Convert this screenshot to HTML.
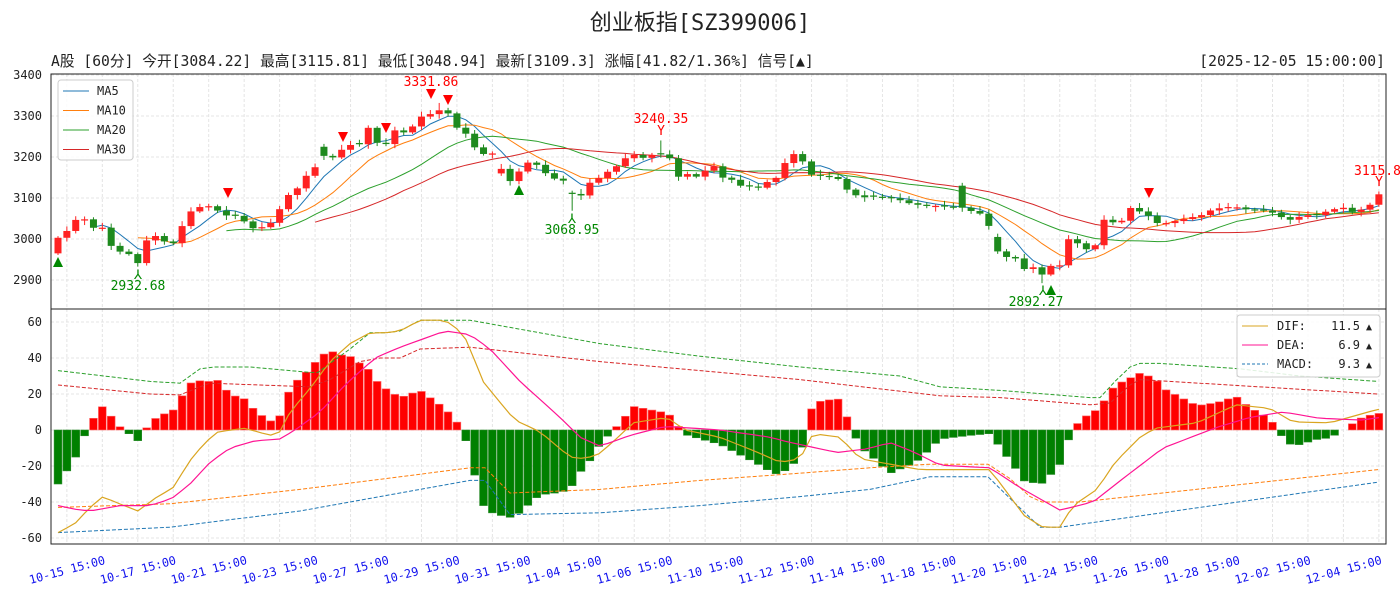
<!DOCTYPE html>
<html><head><meta charset="utf-8">
<style>
html,body{margin:0;padding:0;background:#fff;width:1400px;height:600px;overflow:hidden}
svg{display:block}
text{font-family:"DejaVu Sans Mono","WenQuanYi Zen Hei","Noto Sans CJK SC",monospace}
</style></head><body>
<svg id="s" width="1400" height="600" xmlns="http://www.w3.org/2000/svg">
<text x="700" y="30" font-size="22" text-anchor="middle" fill="#222" font-family="'Liberation Sans','WenQuanYi Zen Hei',sans-serif">创业板指[SZ399006]</text>
<text x="51" y="66" font-size="14.7" fill="#222">A股 [60分] 今开[3084.22] 最高[3115.81] 最低[3048.94] 最新[3109.3] 涨幅[41.82/1.36%] 信号[▲]</text>
<text x="1385" y="66" font-size="14.7" fill="#222" text-anchor="end">[2025-12-05 15:00:00]</text>
<g id="g"></g>
</svg>
<script>
var NS="http://www.w3.org/2000/svg",G=document.getElementById('g');
function el(t,a,txt){var e=document.createElementNS(NS,t);for(var k in a)e.setAttribute(k,a[k]);if(txt!=null)e.textContent=txt;G.appendChild(e);return e;}
var L=51,R=1386,T1=74,B1=309,B2=544,SP=8.865;
function X(i){return 58+SP*i;}
function YP(p){return 75+(3400-p)*0.41;}
function YM(v){return 430-1.8*v;}
for(var k=0;k<38;k++){var gx=X(1+4*k);el('line',{x1:gx,x2:gx,y1:T1,y2:B2,stroke:'#e4e4e4','stroke-dasharray':'3,2','stroke-width':1});}
[3400,3300,3200,3100,3000,2900].forEach(function(p){var y=YP(p);el('line',{x1:L,x2:R,y1:y,y2:y,stroke:'#e4e4e4','stroke-dasharray':'3,2'});el('text',{x:42,y:y+4,'font-size':12,'text-anchor':'end',fill:'#222'},p);});
[60,40,20,0,-20,-40,-60].forEach(function(v){var y=YM(v);el('line',{x1:L,x2:R,y1:y,y2:y,stroke:'#e4e4e4','stroke-dasharray':'3,2'});el('text',{x:42,y:y+4,'font-size':12,'text-anchor':'end',fill:'#222'},v);});
var C0=[3003,3020,3048,3048,3025,3028,2975,2968,2962,2935,3018,3003,2990,2990,3055,3075,3080,3080,3060,3055,3058,3025,3028,3030,3055,3105,3112,3150,3165,3205,3195,3215,3230,3225,3275,3235,3230,3265,3260,3275,3300,3305,3315,3305,3265,3255,3215,3205,3210,3155,3135,3180,3190,3175,3150,3145,3140,3080,3135,3140,3160,3170,3190,3210,3195,3205,3205,3210,3150,3160,3150,3165,3180,3150,3145,3130,3128,3125,3140,3150,3190,3210,3185,3150,3155,3150,3145,3110,3105,3100,3105,3098,3100,3090,3085,3082,3080,3082,3075,3080,3070,3065,3055,2975,2955,2960,2925,2935,2910,2935,2930,3000,2990,2975,2985,3050,3040,3045,3080,3065,3055,3035,3040,3045,3050,3055,3060,3075,3075,3080,3075,3070,3070,3068,3060,3045,3050,3060,3055,3065,3070,3080,3065,3070,3078,3109];
var OV={99:3130,29:3225,49:3160,57:3110,103:3005};
var N=150,C=[],O=[],MAP=[];
for(var i=0;i<N;i++){var oi=(X(i)-58)/9.1;var a=Math.floor(oi),f=oi-a;if(a>=C0.length-1){a=C0.length-2;f=1;}C.push(C0[a]*(1-f)+C0[a+1]*f);MAP.push(Math.round(oi));}
for(var i=0;i<N;i++){var m=MAP[i];O.push(i?C[i-1]:2965);if(OV[m]!=null&&(i==0||MAP[i-1]!=m))O[i]=OV[m];}
function ma(n){var r=[];for(var i=0;i<N;i++){if(i<n-1){r.push(null);continue;}var s=0;for(var j=i-n+1;j<=i;j++)s+=C[j];r.push(s/n);}return r;}
[[5,'#1f77b4'],[10,'#ff7f0e'],[20,'#2ca02c'],[30,'#d62728']].forEach(function(m){var a=ma(m[0]),pts=[];a.forEach(function(v,i){if(v!=null)pts.push(X(i).toFixed(1)+','+YP(v).toFixed(1));});el('polyline',{points:pts.join(' '),fill:'none',stroke:m[1],'stroke-width':1});});
function near(x){return Math.round((x-58)/SP);}
var SPL={};SPL[near(138)]=['lo',2932.68];SPL[near(572)]=['lo',3068.95];SPL[near(1043)]=['lo',2892.27];SPL[near(440)]=['hi',3331.86];SPL[near(661)]=['hi',3240.35];SPL[N-1]=['hi',3115.81];
for(var i=0;i<N;i++){var o=O[i],c=C[i];if(Math.abs(o-c)<2)o=c+((i%2)?-3:3);var up=c>=o,col=up?'#ff2222':'#1e8a1e',hi=Math.max(o,c)+4+(i*7%9),lo=Math.min(o,c)-4-(i*5%8);
if(SPL[i]){if(SPL[i][0]=='lo')lo=SPL[i][1];else hi=SPL[i][1];}
el('line',{x1:X(i),x2:X(i),y1:YP(hi),y2:YP(lo),stroke:col,'stroke-width':1});
var yt=YP(Math.max(o,c)),yb=YP(Math.min(o,c));el('rect',{x:X(i)-3.5,y:yt,width:7,height:Math.max(1.2,yb-yt),fill:col});}
function tri(x,y,dn,col){var p=dn?[x-5,y-5,x+5,y-5,x,y+5]:[x-5,y+5,x+5,y+5,x,y-5];el('polygon',{points:p.join(','),fill:col});}
[[228,193],[343,137],[386,128],[431,94],[448,100],[1149,193]].forEach(function(p){tri(p[0],p[1],1,'#f00');});
[[58,262],[519,190],[1051,290]].forEach(function(p){tri(p[0],p[1],0,'#080');});
function lab(x,y,t,c){el('text',{x:x,y:y,'font-size':13,'text-anchor':'middle',fill:c},t);}
lab(431,86,'3331.86','#f00');lab(138,290,'2932.68','#080');lab(572,234,'3068.95','#080');lab(661,123,'3240.35','#f00');lab(1036,306,'2892.27','#080');el('text',{x:1354,y:175,'font-size':13,fill:'#f00'},'3115.81');
lab(138,279,'⅄','#080');lab(572,223,'⅄','#080');lab(1043,295,'⅄','#080');lab(661,135,'Y','#f00');lab(1379,186,'Y','#f00');
el('rect',{x:58,y:80,width:75,height:80,fill:'#fff','fill-opacity':0.85,stroke:'#ccc',rx:3});
[['MA5','#1f77b4'],['MA10','#ff7f0e'],['MA20','#2ca02c'],['MA30','#d62728']].forEach(function(m,k){var y=91+k*19.5;el('line',{x1:63,x2:89,y1:y,y2:y,stroke:m[1],'stroke-width':1});el('text',{x:97,y:y+4,'font-size':12,fill:'#222'},m[0]);});
function interp(pts,x){if(x<=pts[0][0])return pts[0][1];for(var k=1;k<pts.length;k++){if(x<=pts[k][0]){var a=pts[k-1],b=pts[k];return a[1]+(b[1]-a[1])*(x-a[0])/(b[0]-a[0]);}}return pts[pts.length-1][1];}
var DIF=[[58,-57],[75,-52],[90,-43],[103,-37],[115,-40],[138,-45],[150,-40],[160,-36],[172,-33],[190,-17],[205,-7],[218,-1],[245,1],[270,-3],[280,-1],[290,10],[310,23],[330,38],[350,48],[370,54],[385,54],[400,55],[420,61],[445,61],[460,55],[470,47],[480,29],[502,14],[515,5.5],[540,-1],[570,-15],[585,-16],[600,-13],[620,-3],[633,4],[667,7],[685,0],[720,-4],[760,-13],[780,-18],[800,-16],[813,-2],[840,-4],[860,-16],[880,-18],[920,-22],[990,-22],[1010,-37],[1025,-48],[1043,-54],[1060,-54],[1073,-42],[1097,-33],[1115,-18],[1140,-4],[1155,1],[1197,4],[1236,14],[1270,12],[1293,4.5],[1330,4],[1378,11.5]];
var DEA=[[58,-42],[75,-44],[90,-45],[120,-42],[150,-42],[172,-38],[190,-30],[210,-18],[230,-10],[255,-6],[280,-5],[295,0],[320,10],[345,25],[375,40],[400,46],[420,50],[445,55],[470,53],[490,45],[520,27],[540,17],[560,7],[580,-4],[600,-9],[630,-3],[665,2],[720,0],[770,-4],[787,-6.5],[837,-12.5],[867,-10.5],[890,-7],[913,-12],[940,-19.5],[970,-20.5],[990,-21],[1020,-32],[1060,-44.5],[1093,-40],[1123,-27],[1163,-10],[1217,1.5],[1250,7],[1283,10],[1320,6.5],[1363,5.5],[1378,6.9]];
var d=[],e=[];for(var i=0;i<N;i++){var x=X(i),a=interp(DIF,x),b=interp(DEA,x);d.push(a);e.push(b);var h=2*(a-b);if(Math.abs(h)<0.3)continue;var y0=YM(0),y1=YM(h);el('rect',{x:x-3.9,y:Math.min(y0,y1),width:7.8,height:Math.abs(y1-y0),fill:h>0?'#ff0000':'#008000',stroke:h>0?'#ff6a6a':'#2a8a2a','stroke-width':0.6});}
function dl(pts,col){el('polyline',{points:pts.map(function(p){return p[0]+','+YM(p[1]).toFixed(1);}).join(' '),fill:'none',stroke:col,'stroke-width':1,'stroke-dasharray':'4,2'});}
dl([[58,33],[150,27],[180,26],[200,34],[215,35],[250,35],[310,32],[318,32],[330,37],[350,45],[370,54],[385,54],[400,55],[420,61],[440,61],[470,61],[500,58],[600,48],[700,41],[800,35],[900,30],[940,24],[1000,22],[1090,18],[1100,18],[1115,27],[1130,35],[1140,37],[1160,37],[1240,34],[1300,30],[1378,27]],'#2ca02c');
dl([[58,25],[150,20],[180,19.5],[200,24],[210,26],[260,25],[310,24],[330,28],[360,38],[380,40],[400,40],[420,45],[470,46],[600,38],[700,33],[800,28],[940,19],[1000,18],[1090,14],[1110,15],[1130,25],[1140,28],[1378,20]],'#d62728');
dl([[58,-43],[170,-41],[300,-33],[400,-26],[470,-21],[485,-21],[510,-35],[600,-33],[700,-28],[800,-24],[870,-21],[930,-19],[988,-19],[1010,-27],[1030,-37],[1042,-40],[1080,-40],[1378,-22]],'#ff7f0e');
dl([[58,-57],[170,-54],[300,-45],[400,-35],[470,-28],[485,-28],[510,-47],[600,-46],[700,-42],[800,-37],[870,-33],[930,-26],[988,-26],[1010,-38],[1025,-46],[1040,-54],[1060,-54],[1200,-43],[1378,-29]],'#1f77b4');
el('polyline',{points:d.map(function(v,i){return X(i).toFixed(1)+','+YM(v).toFixed(1);}).join(' '),fill:'none',stroke:'#daa520','stroke-width':1.2});
el('polyline',{points:e.map(function(v,i){return X(i).toFixed(1)+','+YM(v).toFixed(1);}).join(' '),fill:'none',stroke:'#ff1493','stroke-width':1.2});
el('rect',{x:1237,y:315,width:143,height:62,fill:'#fff','fill-opacity':0.85,stroke:'#ccc',rx:3});
[['DIF:','11.5','#daa520',''],['DEA:','6.9','#ff1493',''],['MACD:','9.3','#1f77b4','3,2']].forEach(function(m,k){var y=326+k*19;el('line',{x1:1242,x2:1268,y1:y,y2:y,stroke:m[2],'stroke-width':1,'stroke-dasharray':m[3]});el('text',{x:1277,y:y+4,'font-size':12,fill:'#222'},m[0]);el('text',{x:1360,y:y+4,'font-size':12,fill:'#222','text-anchor':'end'},m[1]);el('text',{x:1366,y:y+4,'font-size':10,fill:'#222'},'▲');});
el('rect',{x:L,y:T1,width:R-L,height:B1-T1,fill:'none',stroke:'#222','stroke-width':1});
el('rect',{x:L,y:B1,width:R-L,height:B2-B1,fill:'none',stroke:'#222','stroke-width':1});
var XL=['10-15','10-17','10-21','10-23','10-27','10-29','10-31','11-04','11-06','11-10','11-12','11-14','11-18','11-20','11-24','11-26','11-28','12-02','12-04'];
XL.forEach(function(t,k){var x=X(1+8*k);el('text',{x:x,y:574,'font-size':11.8,fill:'#1010ee','text-anchor':'middle','font-family':'WenQuanYi Zen Hei, monospace',transform:'rotate(-15 '+x+' 569)'},t+' 15:00');});
</script>
</body></html>
